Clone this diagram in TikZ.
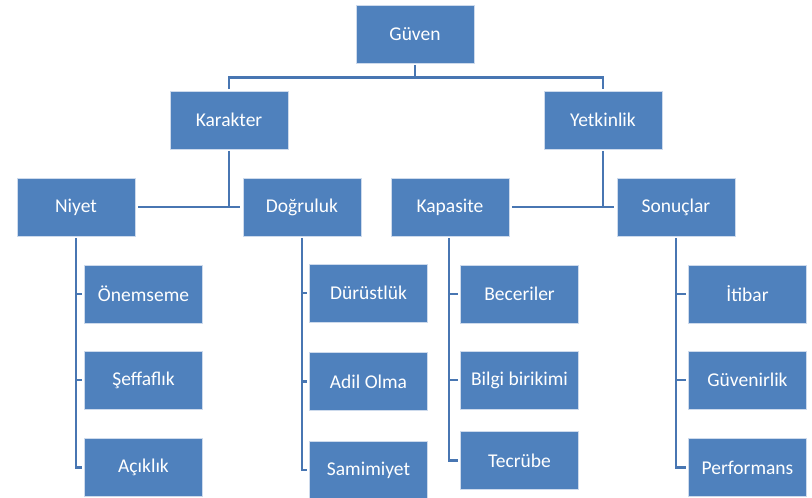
\documentclass[tikz,border=0pt]{standalone}
\usepackage{fontspec}
\setmainfont{Carlito}
\definecolor{boxblue}{RGB}{79,129,189}
\definecolor{boxedge}{RGB}{205,218,236}
\definecolor{linkblue}{RGB}{72,118,178}
\begin{document}
\begin{tikzpicture}[x=1pt,y=-1pt,
  box/.style={rectangle, fill=boxblue, draw=boxedge, line width=0.8pt,
    minimum width=118pt, minimum height=58pt, inner sep=0pt,
    text=white, font=\fontsize{19.5}{22}\selectfont},
  link/.style={draw=linkblue, line width=2.8pt},
  gap/.style={shorten <=2.5pt, shorten >=2.5pt}]
\useasboundingbox (0,0) rectangle (812,498);
% level 0/1
\node[box] (guven) at (415,34) {Güven};
\node[box] (karakter) at (229,120) {Karakter};
\node[box] (yetkin) at (603,120) {Yetkinlik};
% level 2
\node[box] (niyet) at (76,207) {Niyet};
\node[box] (dogru) at (302,207) {Doğruluk};
\node[box] (kapas) at (450,207) {Kapasite};
\node[box] (sonuc) at (676,207) {Sonuçlar};
% level 3
\node[box] (onem) at (143.5,294) {Önemseme};
\node[box] (seff) at (143.5,380) {Şeffaflık};
\node[box] (acik) at (143.5,467.5) {Açıklık};
\node[box] (durust) at (368.5,293) {Dürüstlük};
\node[box] (adil) at (368.5,381.5) {Adil Olma};
\node[box] (samim) at (368.5,470) {Samimiyet};
\node[box] (becer) at (519.5,294) {Beceriler};
\node[box] (bilgi) at (519.5,380) {Bilgi birikimi};
\node[box] (tecr) at (519.5,460.5) {Tecrübe};
\node[box] (itibar) at (747.5,294) {İtibar};
\node[box] (guvenir) at (747.5,380) {Güvenirlik};
\node[box] (perf) at (747.5,467.5) {Performans};
% connectors top
\path (guven.south) ++(0,14) coordinate (g1);
\draw[link, shorten <=1.5pt] (guven.south) -- (g1);
\draw[link, shorten <=1.5pt, shorten >=1.5pt] (karakter.north) |- (g1) -| (yetkin.north);
% Karakter to Niyet / Dogruluk
\draw[link, shorten <=1.5pt] (karakter.south) -- (karakter.south |- niyet.east);
\draw[link, gap] (niyet.east) -- (dogru.west);
% Yetkinlik to Kapasite / Sonuclar
\draw[link, shorten <=1.5pt] (yetkin.south) -- (yetkin.south |- kapas.east);
\draw[link, gap] (kapas.east) -- (sonuc.west);
% children
\draw[link, shorten <=1.5pt, shorten >=2pt] (niyet.south) |- (acik.west);
\draw[link, shorten >=2pt] (niyet.south |- onem.west) -- (onem.west);
\draw[link, shorten >=2pt] (niyet.south |- seff.west) -- (seff.west);
\draw[link, shorten <=1.5pt, shorten >=2pt] (dogru.south) |- (samim.west);
\draw[link, shorten >=2pt] (dogru.south |- durust.west) -- (durust.west);
\draw[link, shorten >=2pt] (dogru.south |- adil.west) -- (adil.west);
\draw[link, shorten <=1.5pt, shorten >=2pt] ([xshift=-1pt]kapas.south) |- (tecr.west);
\draw[link, shorten >=2pt] ([xshift=-1pt]kapas.south |- becer.west) -- (becer.west);
\draw[link, shorten >=2pt] ([xshift=-1pt]kapas.south |- bilgi.west) -- (bilgi.west);
\draw[link, shorten <=1.5pt, shorten >=2pt] (sonuc.south) |- (perf.west);
\draw[link, shorten >=2pt] (sonuc.south |- itibar.west) -- (itibar.west);
\draw[link, shorten >=2pt] (sonuc.south |- guvenir.west) -- (guvenir.west);
\end{tikzpicture}
\end{document}
